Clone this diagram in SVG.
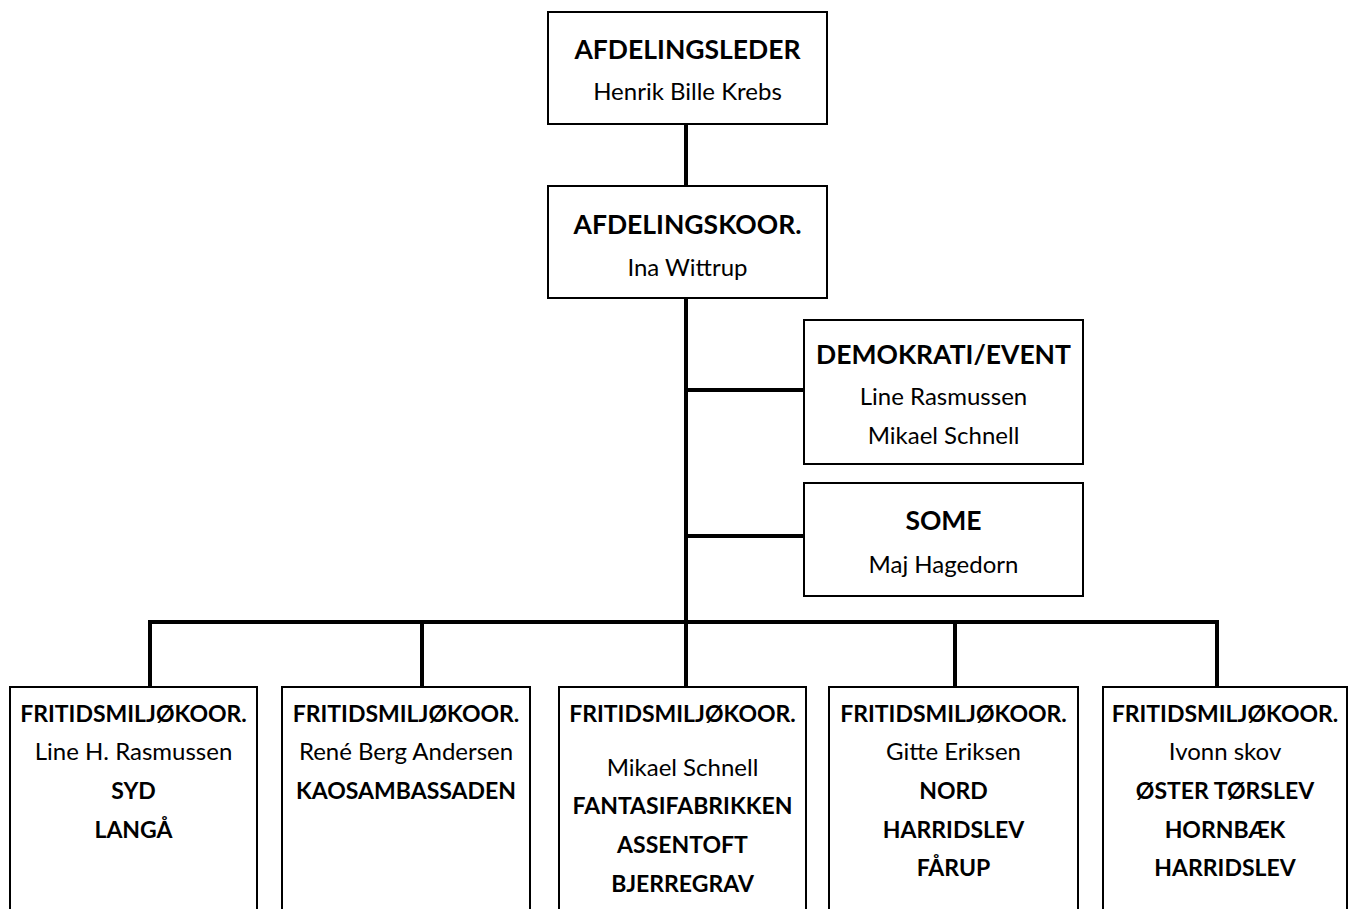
<svg xmlns="http://www.w3.org/2000/svg" width="1349" height="909" viewBox="0 0 1349 909">
<style>
.box{fill:#fff;stroke:#000;stroke-width:2}
.con{stroke:#000;stroke-width:4;fill:none;stroke-linecap:square}
text{font-family:Lato,"Liberation Sans",sans-serif;fill:#000;text-anchor:middle}
.h{font-weight:bold;font-size:26.5px}
.hs{font-weight:bold;font-size:23px}
.n{font-size:24px}
.ns{font-size:24px}
</style>
<rect width="1349" height="909" fill="#fff"/>
<g id="connectors">
<line class="con" x1="686" y1="124" x2="686" y2="186"/>
<line class="con" x1="686" y1="298" x2="686" y2="687"/>
<line class="con" x1="686" y1="390" x2="804" y2="390"/>
<line class="con" x1="686" y1="536" x2="804" y2="536"/>
<polyline class="con" points="150,687 150,622 1217,622 1217,687"/>
<line class="con" x1="422" y1="622" x2="422" y2="687"/>
<line class="con" x1="955" y1="622" x2="955" y2="687"/>
</g>
<g id="afdelingsleder">
<rect class="box" x="548" y="12" width="279" height="112"/>
<text class="h" x="687.5" y="59">AFDELINGSLEDER</text>
<text class="n" x="687.5" y="100">Henrik Bille Krebs</text>
</g>
<g id="afdelingskoor">
<rect class="box" x="548" y="186" width="279" height="112"/>
<text class="h" x="687.5" y="234">AFDELINGSKOOR.</text>
<text class="n" x="687.5" y="276">Ina Wittrup</text>
</g>
<g id="demokrati">
<rect class="box" x="804" y="320" width="279" height="144"/>
<text class="h" x="943.5" y="364">DEMOKRATI/EVENT</text>
<text class="n" x="943.5" y="405">Line Rasmussen</text>
<text class="n" x="943.5" y="444">Mikael Schnell</text>
</g>
<g id="some">
<rect class="box" x="804" y="483" width="279" height="113"/>
<text class="h" x="943.5" y="530">SOME</text>
<text class="n" x="943.5" y="573">Maj Hagedorn</text>
</g>
<g id="fritid1">
<rect class="box" x="10" y="687" width="247" height="240"/>
<text class="hs" x="133.5" y="722">FRITIDSMILJØKOOR.</text>
<text class="ns" x="133.5" y="760">Line H. Rasmussen</text>
<text class="hs" x="133.5" y="799">SYD</text>
<text class="hs" x="133.5" y="838">LANGÅ</text>
</g>
<g id="fritid2">
<rect class="box" x="282" y="687" width="248" height="240"/>
<text class="hs" x="406" y="722">FRITIDSMILJØKOOR.</text>
<text class="ns" x="406" y="760">René Berg Andersen</text>
<text class="hs" x="406" y="799">KAOSAMBASSADEN</text>
</g>
<g id="fritid3">
<rect class="box" x="559" y="687" width="247" height="240"/>
<text class="hs" x="682.5" y="722">FRITIDSMILJØKOOR.</text>
<text class="ns" x="682.5" y="776">Mikael Schnell</text>
<text class="hs" x="682.5" y="814">FANTASIFABRIKKEN</text>
<text class="hs" x="682.5" y="853">ASSENTOFT</text>
<text class="hs" x="682.5" y="892">BJERREGRAV</text>
</g>
<g id="fritid4">
<rect class="box" x="829" y="687" width="249" height="240"/>
<text class="hs" x="953.5" y="722">FRITIDSMILJØKOOR.</text>
<text class="ns" x="953.5" y="760">Gitte Eriksen</text>
<text class="hs" x="953.5" y="799">NORD</text>
<text class="hs" x="953.5" y="838">HARRIDSLEV</text>
<text class="hs" x="953.5" y="876">FÅRUP</text>
</g>
<g id="fritid5">
<rect class="box" x="1103" y="687" width="244" height="240"/>
<text class="hs" x="1225" y="722">FRITIDSMILJØKOOR.</text>
<text class="ns" x="1225" y="760">Ivonn skov</text>
<text class="hs" x="1225" y="799">ØSTER TØRSLEV</text>
<text class="hs" x="1225" y="838">HORNBÆK</text>
<text class="hs" x="1225" y="876">HARRIDSLEV</text>
</g>
</svg>
